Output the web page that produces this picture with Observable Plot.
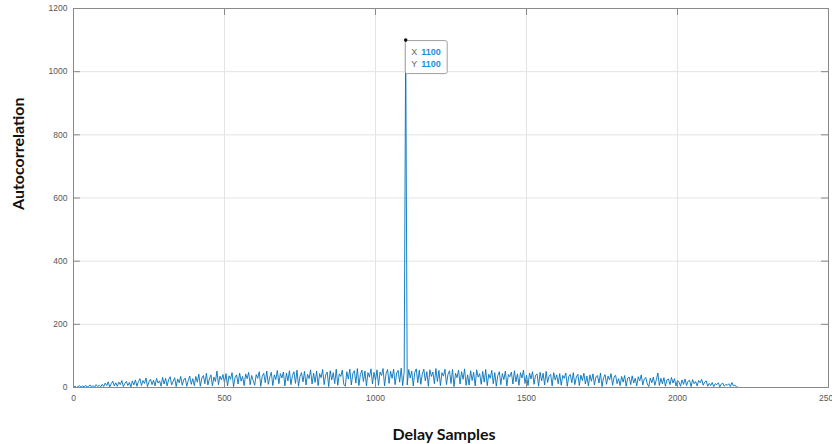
<!DOCTYPE html>
<html><head><meta charset="utf-8">
<script src="https://cdn.jsdelivr.net/npm/d3@7"></script>
<script src="https://cdn.jsdelivr.net/npm/@observablehq/plot@0.6"></script>
<style>body{margin:0;background:#fff;overflow:hidden}</style>
</head><body><div id="chart"></div>
<script>
const xTicks = [0, 500, 1000, 1500, 2000, 2500];
const yTicks = [0, 200, 400, 600, 800, 1000, 1200];
const delayStep = 5;
// autocorrelation values, one every 5 delay samples (0 .. 2200)
const autocorr = [
 1,4,0,3,6,1,5,2,7,1,4,8,2,6,1,9,3,7,2,10,
 3,14,6,18,2,12,20,5,15,4,17,9,22,3,13,19,6,16,2,21,
 8,24,4,19,28,6,22,13,30,3,18,26,9,23,5,29,14,21,4,32,
 11,29,5,25,34,8,20,31,3,27,15,35,7,24,30,4,22,36,10,28,
 6,35,17,42,4,30,38,12,45,8,27,40,5,33,19,52,9,36,24,41,
 14,44,5,37,26,47,3,32,40,11,46,20,35,6,43,28,48,9,38,22,
 7,41,29,50,4,36,45,15,52,10,33,48,6,40,25,54,12,44,30,49,
 5,46,21,53,9,38,50,13,55,4,35,47,18,51,8,42,28,56,11,45,
 16,52,6,44,31,57,9,40,49,3,53,24,47,12,58,7,43,35,55,10,
 4,50,27,58,8,45,53,14,60,6,41,55,19,52,5,47,33,59,11,48,
 22,56,7,49,38,60,5,44,57,13,51,29,58,9,46,54,17,61,6,50,
 1100,
 8,57,30,52,5,48,59,15,55,10,43,58,21,50,4,56,35,49,12,60,
 19,54,6,47,36,58,9,42,53,13,57,3,45,31,55,11,50,26,59,7,
 40,8,53,22,48,5,56,33,44,10,51,17,57,6,42,29,54,12,47,4,
 38,50,9,44,25,52,5,41,34,49,11,53,18,43,7,47,30,55,13,39,
 6,46,27,50,10,39,43,4,48,21,45,8,51,16,37,42,5,47,24,40,
 12,44,7,38,29,46,4,35,41,15,47,9,33,42,6,39,22,45,11,36,
 5,40,20,43,8,34,38,14,46,3,31,41,10,36,24,44,7,33,39,12,
 28,6,35,17,38,4,30,33,9,37,14,29,5,34,21,40,8,27,32,11,
 3,30,15,33,7,25,46,6,29,12,31,4,24,27,9,32,14,28,5,22,
 18,4,24,10,27,6,20,23,3,25,12,19,5,22,15,26,7,17,21,4,
 13,6,16,3,12,9,15,2,11,14,4,10,7,12,3,16,5,8,2,1
];
const peak = {delay: 1100, value: 1100};
const xTitle = "Delay Samples";
const yTitle = "Autocorrelation";

const data = autocorr.map((v, i) => ({delay: i * delayStep, value: v}));

const plot = Plot.plot({
  width: 832, height: 444,
  marginLeft: 73, marginRight: 4, marginTop: 8, marginBottom: 57,
  x: {domain: [0, 2500], label: null},
  y: {domain: [0, 1200], label: null},
  style: {fontFamily: "'Liberation Sans', Arial, sans-serif", fontSize: "8.5px", color: "#555", background: "#fff"},
  marks: [
    Plot.gridX(xTicks, {stroke: "#e4e4e4", strokeOpacity: 1}),
    Plot.gridY(yTicks, {stroke: "#e4e4e4", strokeOpacity: 1}),
    Plot.line(data, {x: "delay", y: "value", stroke: "#0072BD", strokeWidth: 0.9}),
    Plot.axisX(xTicks, {tickSize: 0, tickPadding: 7, fill: "#555", tickFormat: d => String(d)}),
    Plot.axisY(yTicks, {tickSize: 0, tickPadding: 6, fill: "#555", tickFormat: d => String(d)}),
    Plot.ruleY(yTicks, {x1: 0, x2: 23, stroke: "#888"}),
    Plot.ruleY(yTicks, {x1: 2477, x2: 2500, stroke: "#888"}),
    Plot.ruleX(xTicks, {y1: 1200, y2: 1178, stroke: "#888"}),
    Plot.ruleX(xTicks, {y1: 0, y2: 22, stroke: "#888"}),
    Plot.frame({stroke: "#8a8a8a"}),
    Plot.dot([peak], {x: "delay", y: "value", r: 1.8, fill: "#111"}),
    Plot.text([xTitle], {frameAnchor: "bottom", dy: 52, dx: -7, lineAnchor: "bottom",
      fontSize: 16, fontWeight: "bold", fill: "#111", fontFamily: "Lato, sans-serif"}),
    Plot.text([yTitle], {frameAnchor: "left", dx: -55, dy: 12, rotate: -90,
      fontSize: 16, fontWeight: "bold", fill: "#111", fontFamily: "Lato, sans-serif"})
  ]
});

// data tip box
const sx = plot.scale("x"), sy = plot.scale("y");
const px = sx.apply(peak.delay), py = sy.apply(peak.value);
const svg = d3.select(plot);
const g = svg.append("g").attr("font-family", "'Liberation Sans', Arial, sans-serif")
  .attr("font-size", 9).attr("text-anchor", "start");
g.append("rect").attr("x", px).attr("y", py + 1).attr("width", 42).attr("height", 33)
  .attr("fill", "#fff").attr("stroke", "#a0a0a0").attr("rx", 2);
[["X", peak.delay, 12], ["Y", peak.value, 24]].forEach(([k, v, off]) => {
  g.append("text").attr("x", px + 6).attr("y", py + off + 1).attr("dy", "0.32em").attr("fill", "#666").text(k);
  g.append("text").attr("x", px + 16).attr("y", py + off + 1).attr("dy", "0.32em").attr("fill", "#1a8fe0")
    .attr("font-weight", "bold").text(String(v));
});
svg.select("g[aria-label=dot]").raise();
document.getElementById("chart").append(plot);
</script>
</body></html>
